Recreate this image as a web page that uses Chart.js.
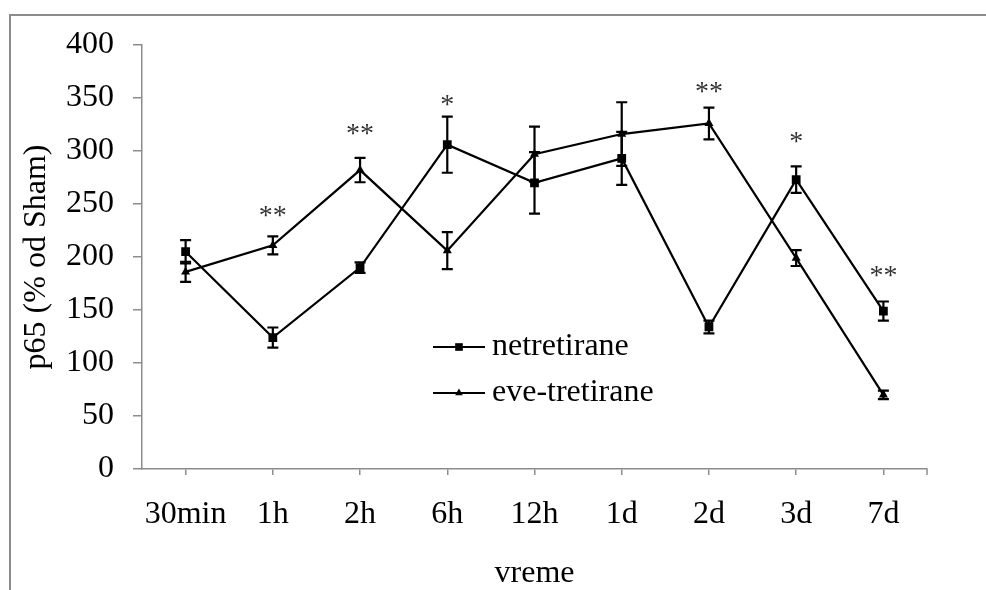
<!DOCTYPE html>
<html>
<head>
<meta charset="utf-8">
<script src="https://cdn.jsdelivr.net/npm/chart.js@4/dist/chart.umd.min.js"></script>
<style>
  html, body { margin: 0; padding: 0; background: #fff; }
  #wrap { width: 986px; height: 590px; position: relative; }
</style>
</head>
<body>
<div id="wrap"><canvas id="c" width="986" height="590"></canvas></div>
<script>
// Time points after injury
const categories = ['30min', '1h', '2h', '6h', '12h', '1d', '2d', '3d', '7d'];

// p65 level, % of Sham, with SEM
const netretirane = [205, 124, 190, 306, 270, 293, 134, 273, 149];
const netretiraneErr = [11, 9.5, 5, 26.5, 29, 25, 6, 12.5, 9];
const eveTretirane = [186, 211, 282, 206, 297, 316, 326, 199, 70];
const eveTretiraneErr = [9.5, 8.5, 11.5, 17.5, 26, 30, 15, 7.5, 4];

// Y axis ticks
const yTicks = [0, 50, 100, 150, 200, 250, 300, 350, 400];

// Significance marks and the axis value they sit at
const significance = ['', '**', '**', '*', '', '', '**', '*', '**'];
const significanceAt = [null, 238, 315, 343, null, null, 355, 308, 181];

const FONT = "'Liberation Serif', 'Times New Roman', Times, serif";
const AXIS_GRAY = '#8c8c8c';

const errorSets = [netretiraneErr, eveTretiraneErr];

const decorations = {
  id: 'decorations',
  beforeDraw(chart) {
    // outer frame (top and left edges)
    const ctx = chart.ctx;
    ctx.save();
    ctx.strokeStyle = AXIS_GRAY;
    ctx.lineWidth = 2;
    ctx.beginPath();
    ctx.moveTo(10, 590);
    ctx.lineTo(10, 15);
    ctx.lineTo(986, 15);
    ctx.stroke();
    ctx.restore();
  },
  afterDraw(chart) {
    const ctx = chart.ctx;
    const xs = chart.scales.x, ys = chart.scales.y;

    // closing tick at the right end of the category axis
    ctx.save();
    ctx.strokeStyle = AXIS_GRAY;
    ctx.lineWidth = 1.5;
    ctx.beginPath();
    ctx.moveTo(xs.right, xs.top);
    ctx.lineTo(xs.right, xs.top + 6);
    ctx.stroke();
    ctx.restore();

    // error bars
    ctx.save();
    ctx.strokeStyle = '#000';
    ctx.lineWidth = 2.2;
    chart.data.datasets.forEach((ds, i) => {
      const meta = chart.getDatasetMeta(i);
      const errs = errorSets[i];
      meta.data.forEach((pt, j) => {
        const v = ds.data[j], e = errs[j];
        const yt = ys.getPixelForValue(v + e);
        const yb = ys.getPixelForValue(v - e);
        const x = pt.x, cap = 5.5;
        ctx.beginPath();
        ctx.moveTo(x, yt); ctx.lineTo(x, yb);
        ctx.moveTo(x - cap, yt); ctx.lineTo(x + cap, yt);
        ctx.moveTo(x - cap, yb); ctx.lineTo(x + cap, yb);
        ctx.stroke();
      });
    });
    ctx.restore();

    // significance asterisks
    ctx.save();
    ctx.fillStyle = '#333';
    ctx.font = '28px ' + FONT;
    ctx.textAlign = 'center';
    ctx.textBaseline = 'middle';
    significance.forEach((s, j) => {
      if (!s) return;
      ctx.fillText(s, xs.getPixelForValue(j), ys.getPixelForValue(significanceAt[j]));
    });
    ctx.restore();

    // legend inside the plot
    const lg = { x0: 433, x1: 485, textX: 492, rows: [347, 393] };
    ctx.save();
    chart.data.datasets.forEach((ds, i) => {
      const y = lg.rows[i];
      ctx.strokeStyle = ds.borderColor;
      ctx.lineWidth = ds.borderWidth;
      ctx.beginPath();
      ctx.moveTo(lg.x0, y); ctx.lineTo(lg.x1, y);
      ctx.stroke();
      ctx.fillStyle = ds.pointBackgroundColor;
      Chart.helpers.drawPoint(ctx, {
        pointStyle: ds.pointStyle, radius: ds.pointRadius - 0.8, rotation: 0, borderWidth: 0
      }, (lg.x0 + lg.x1) / 2, y);
      ctx.fillStyle = '#000';
      ctx.font = '32px ' + FONT;
      ctx.textAlign = 'left';
      ctx.textBaseline = 'middle';
      ctx.fillText(ds.label, lg.textX, y);
    });
    ctx.restore();
  }
};

new Chart(document.getElementById('c'), {
  type: 'line',
  data: {
    labels: categories,
    datasets: [
      {
        label: 'netretirane',
        data: netretirane,
        borderColor: '#000',
        borderWidth: 2.2,
        pointStyle: 'rect',
        pointRadius: 6.2,
        pointBackgroundColor: '#000',
        pointBorderWidth: 0,
        tension: 0
      },
      {
        label: 'eve-tretirane',
        data: eveTretirane,
        borderColor: '#000',
        borderWidth: 2.2,
        pointStyle: 'triangle',
        pointRadius: 5.2,
        pointBackgroundColor: '#000',
        pointBorderWidth: 0,
        tension: 0
      }
    ]
  },
  options: {
    responsive: false,
    animation: false,
    devicePixelRatio: 1,
    layout: { padding: { left: 0, top: 45, right: 59, bottom: 0 } },
    plugins: { legend: { display: false }, tooltip: { enabled: false } },
    scales: {
      x: {
        type: 'category',
        offset: true,
        grid: { display: true, drawOnChartArea: false, drawTicks: true, tickLength: 6, color: AXIS_GRAY, lineWidth: 1.5 },
        border: { display: true, color: AXIS_GRAY, width: 1.5 },
        ticks: { color: '#000', font: { family: FONT, size: 32 }, padding: 20, maxRotation: 0, autoSkip: false },
        title: { display: true, text: 'vreme', color: '#000', font: { family: FONT, size: 32, lineHeight: 1.0 }, padding: 0 },
        afterFit: (s) => { s.height = 121; }
      },
      y: {
        min: 0,
        max: 400,
        afterBuildTicks: (s) => { s.ticks = yTicks.map(v => ({ value: v })); },
        grid: { display: true, drawOnChartArea: false, drawTicks: true, tickLength: 9, color: AXIS_GRAY, lineWidth: 1.5 },
        border: { display: true, color: AXIS_GRAY, width: 1.5 },
        ticks: { color: '#000', font: { family: FONT, size: 32 }, padding: 19 },
        title: { display: true, text: 'p65 (% od Sham)', color: '#000', font: { family: FONT, size: 32, lineHeight: 1.2 }, padding: { top: 17, bottom: 0 } },
        afterFit: (s) => { s.width = 142; }
      }
    }
  },
  plugins: [decorations]
});
</script>
</body>
</html>
